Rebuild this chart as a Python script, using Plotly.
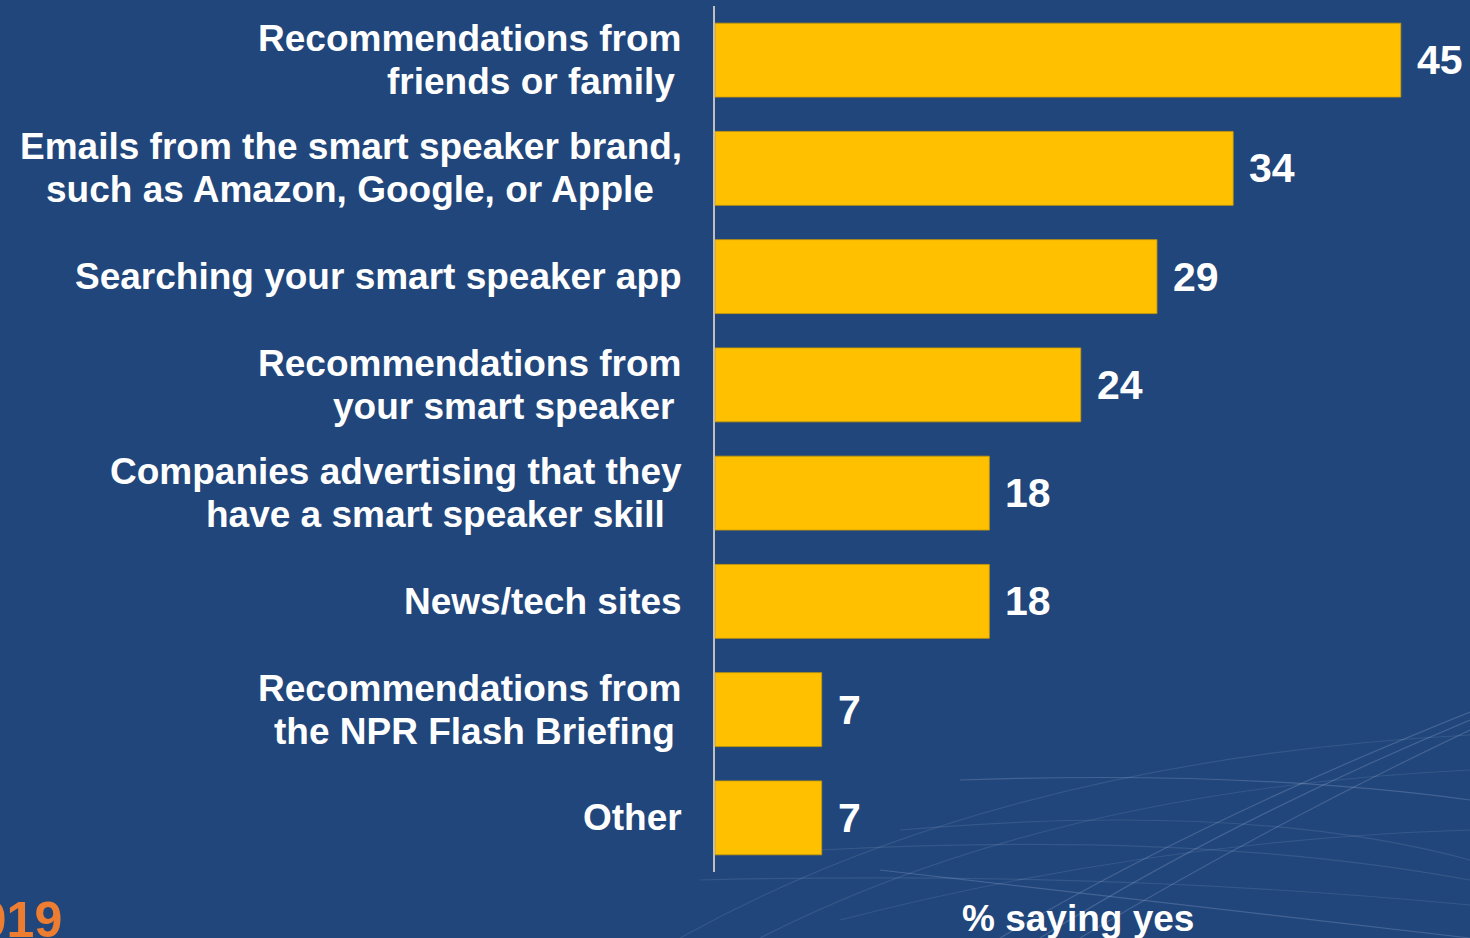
import plotly.graph_objects as go

categories = [
    "Recommendations from<br>friends or family\u2009",
    "Emails from the smart speaker brand,<br>such as Amazon, Google, or Apple\u00a0\u00a0\u2009",
    "Searching your smart speaker app",
    "Recommendations from<br>your smart speaker\u2009",
    "Companies advertising that they<br>have a smart speaker skill\u00a0\u2009",
    "News/tech sites",
    "Recommendations from<br>the NPR Flash Briefing\u2009",
    "Other",
]
values = [45, 34, 29, 24, 18, 18, 7, 7]
axis_title = "% saying yes"
year_text = "2019"

W, H = 1470, 938
ML, MR, MT, MB = 715, 0, 6, 66
PW, PH = W - ML - MR, H - MT - MB

BG = "#21467B"
BAR = "#FFC000"
FONT = "Liberation Sans, Arial, sans-serif"

fig = go.Figure()
fig.add_trace(go.Bar(
    x=values, y=list(range(len(categories))), orientation="h",
    marker=dict(color=BAR, line=dict(color="#C99A00", width=0.8)),
    hoverinfo="skip", showlegend=False,
))

annotations = []
# category labels, one annotation per line for tight line spacing
for i, lab in enumerate(categories):
    lines = lab.split("<br>")
    n = len(lines)
    for j, ln in enumerate(lines):
        off = (j - (n - 1) / 2) * 43
        annotations.append(dict(
            x=0, y=i, xref="x", yref="y", text=f"<b>{ln}</b>", showarrow=False,
            xanchor="right", yanchor="middle", xshift=-31, yshift=-off,
            font=dict(family=FONT, size=37, color="white"),
        ))
# value labels
for i, v in enumerate(values):
    annotations.append(dict(
        x=v, y=i, xref="x", yref="y", text=f"<b>{v}</b>", showarrow=False,
        xanchor="left", yanchor="middle", xshift=14, yshift=0,
        font=dict(family=FONT, size=41, color="white"),
    ))

def px(xp):
    return (xp - ML) / PW

def py(yp):
    return (H - MB - yp) / PH

annotations.append(dict(
    x=px(1078), y=py(918), xref="paper", yref="paper", text=f"<b>{axis_title}</b>",
    showarrow=False, xanchor="center", yanchor="middle",
    font=dict(family=FONT, size=37, color="white"),
))
annotations.append(dict(
    x=px(64), y=py(920), xref="paper", yref="paper", text=f"<b>{year_text}</b>",
    showarrow=False, xanchor="right", yanchor="middle",
    font=dict(family=FONT, size=50, color="#ED7D31"),
))

# decorative faint swooshes (background ornament)
shapes = []
def path_px(pts):
    s = f"M {px(pts[0][0])} {py(pts[0][1])}"
    s += f" Q {px(pts[1][0])} {py(pts[1][1])} {px(pts[2][0])} {py(pts[2][1])}"
    return s

swoosh = [
    ((680, 938), (1000, 760), (1470, 735)),
    ((760, 938), (1050, 790), (1470, 770)),
    ((840, 920), (1150, 840), (1470, 830)),
    ((700, 880), (1100, 870), (1470, 905)),
    ((820, 850), (1200, 830), (1470, 880)),
    ((900, 830), (1250, 800), (1470, 860)),
    ((1000, 938), (1200, 820), (1470, 712)),
    ((1040, 938), (1230, 820), (1470, 720)),
    ((1080, 938), (1260, 830), (1470, 730)),
    ((880, 870), (1150, 900), (1470, 938)),
    ((960, 780), (1250, 770), (1470, 800)),
]
for k, pts in enumerate(swoosh):
    shapes.append(dict(
        type="path", xref="paper", yref="paper", path=path_px(pts),
        line=dict(color="rgba(190,205,235,0.22)" if k >= 6 else "rgba(190,205,235,0.13)", width=1.2),
        layer="below",
    ))

fig.update_layout(
    width=W, height=H,
    margin=dict(l=ML, r=MR, t=MT, b=MB),
    paper_bgcolor=BG, plot_bgcolor="rgba(0,0,0,0)",
    bargap=0.317,
    xaxis=dict(range=[0, PW / 15.24], showgrid=False, zeroline=False,
               showticklabels=False, showline=False, fixedrange=True),
    yaxis=dict(range=[len(categories) - 0.5, -0.5], showgrid=False, zeroline=False,
               showticklabels=False, showline=True, linecolor="#BFBFBF",
               linewidth=2, fixedrange=True),
    annotations=annotations,
    shapes=shapes,
    font=dict(family=FONT, color="white"),
)

fig.write_html(
    "out.html",
    config={"displayModeBar": False},
    post_script="document.body.style.margin='0';document.body.style.padding='0';"
                "document.body.style.overflow='hidden';"
                "document.documentElement.style.background='" + BG + "';",
)
